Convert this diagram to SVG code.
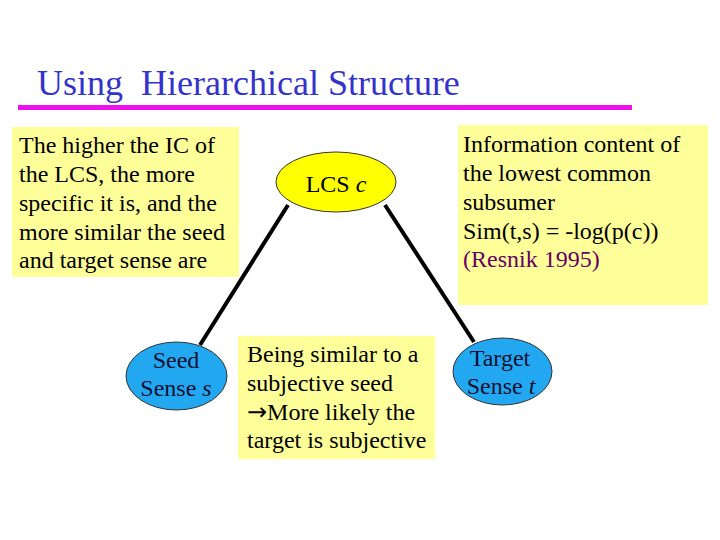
<svg xmlns="http://www.w3.org/2000/svg" width="720" height="540" viewBox="0 0 720 540">
<style>
  text { font-family: 'Liberation Serif', 'Tinos', 'Times New Roman', 'DejaVu Serif', serif; font-size: 24px; fill: #000; }
  .title { font-size: 36px; fill: #3333CC; }
  .box { fill: #FFFF99; stroke: none; }
  .node { stroke: #333; stroke-width: 1; }
  .blue { fill: #22A8F0; }
  .yellow { fill: #FFFF00; }
  .conn { stroke: #000; stroke-width: 4; fill: none; }
  .nodetext { fill: #111133; text-anchor: middle; }
  .arrow { font-family: 'DejaVu Sans', sans-serif; }
</style>
<rect width="720" height="540" fill="#FFFFFF"/>
<text class="title" x="37" y="95" xml:space="preserve">Using  Hierarchical Structure</text>
<line x1="18" y1="107.5" x2="632" y2="107.5" stroke="#EE11EE" stroke-width="5"/>

<g id="note-left">
  <rect class="box" x="12" y="127" width="227" height="150"/>
  <text x="19" y="153">The higher the IC of</text>
  <text x="19" y="182">the LCS, the more</text>
  <text x="19" y="211">specific it is, and the</text>
  <text x="19" y="240">more similar the seed</text>
  <text x="19" y="268">and target sense are</text>
</g>

<g id="note-right">
  <rect class="box" x="458" y="125" width="250" height="180"/>
  <text x="463" y="152">Information content of</text>
  <text x="463" y="181">the lowest common</text>
  <text x="463" y="210">subsumer</text>
  <text x="463" y="239">Sim(t,s) = -log(p(c))</text>
  <text x="463" y="267" style="fill:#660066">(Resnik 1995)</text>
</g>

<g id="note-middle">
  <rect class="box" x="238" y="336" width="197" height="123"/>
  <text x="247" y="362">Being similar to a</text>
  <text x="247" y="391">subjective seed</text>
  <text x="247" y="420"><tspan class="arrow">→</tspan>More likely the</text>
  <text x="247" y="448">target is subjective</text>
</g>

<g id="connectors">
  <line class="conn" x1="288" y1="205" x2="200" y2="345"/>
  <line class="conn" x1="385" y1="205" x2="474" y2="342"/>
</g>

<g id="lcs">
  <ellipse class="node yellow" cx="336" cy="182" rx="60" ry="30"/>
  <text class="nodetext" x="336" y="192" style="fill:#000">LCS <tspan font-style="italic">c</tspan></text>
</g>

<g id="seed">
  <ellipse class="node blue" cx="176.5" cy="376" rx="50.5" ry="34"/>
  <text class="nodetext" x="176" y="368">Seed</text>
  <text class="nodetext" x="176" y="396">Sense <tspan font-style="italic">s</tspan></text>
</g>

<g id="target">
  <ellipse class="node blue" cx="502.5" cy="371.5" rx="49.5" ry="33.5"/>
  <text class="nodetext" x="500" y="366">Target</text>
  <text class="nodetext" x="501" y="394">Sense <tspan font-style="italic">t</tspan></text>
</g>
</svg>
